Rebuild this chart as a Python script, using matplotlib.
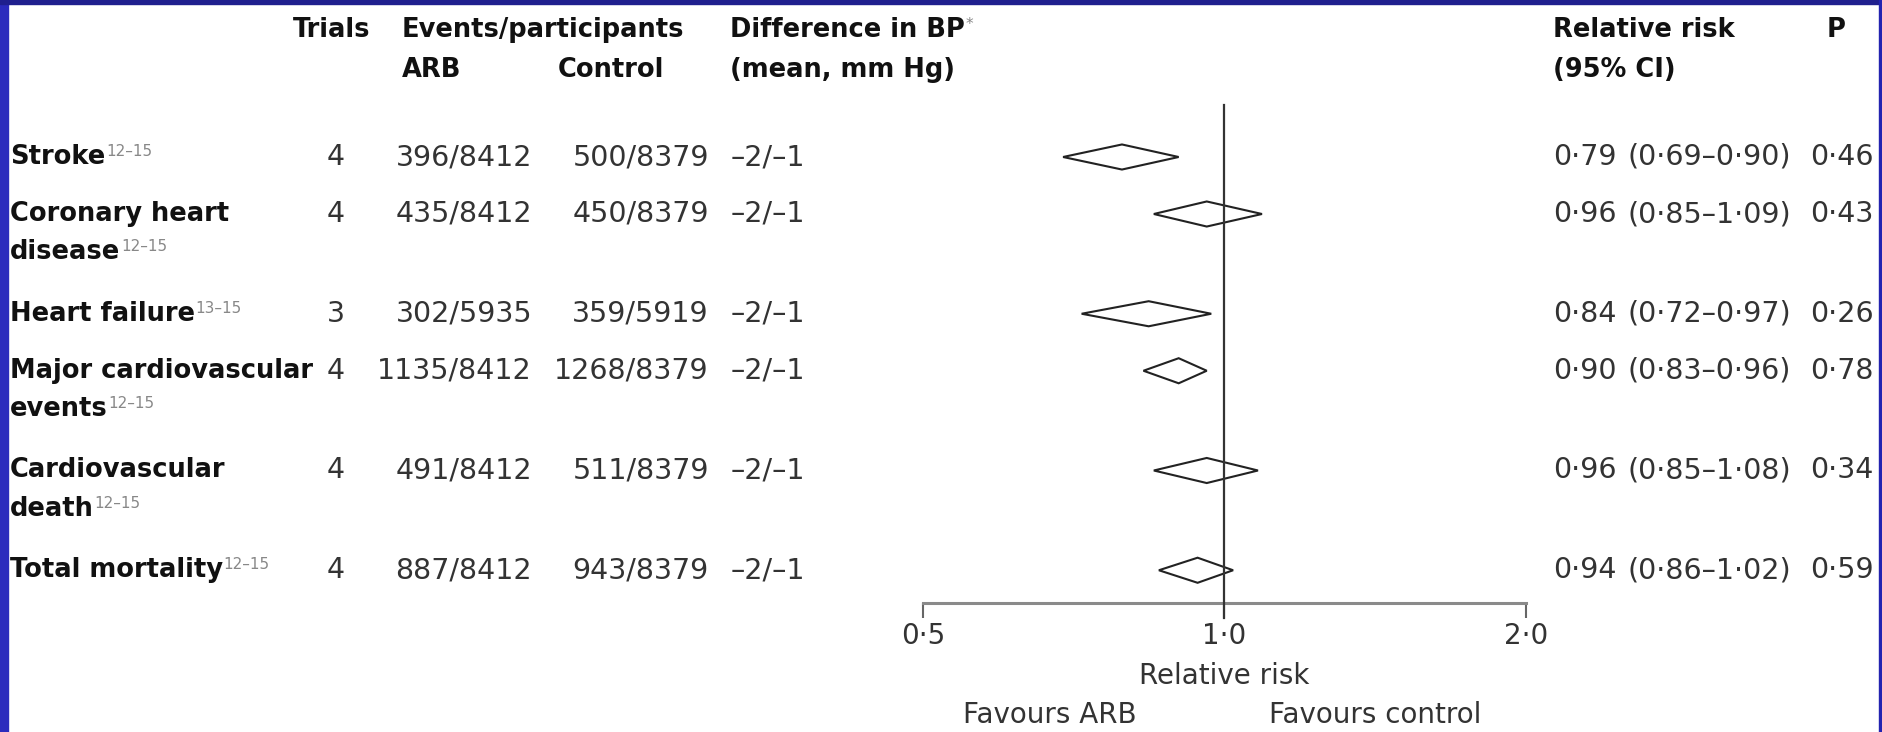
import matplotlib
matplotlib.use("Agg")
import matplotlib.pyplot as plt
from matplotlib.patches import Polygon, Rectangle
from matplotlib.ticker import NullLocator
from matplotlib.transforms import blended_transform_factory

# ---- data ----
outcomes = ["Stroke", "Coronary heart\ndisease", "Heart failure",
            "Major cardiovascular\nevents", "Cardiovascular\ndeath", "Total mortality"]
refs = ["12–15", "12–15", "13–15", "12–15", "12–15", "12–15"]
trials = [4, 4, 3, 4, 4, 4]
arb_events = [396, 435, 302, 1135, 491, 887]
arb_n = [8412, 8412, 5935, 8412, 8412, 8412]
ctrl_events = [500, 450, 359, 1268, 511, 943]
ctrl_n = [8379, 8379, 5919, 8379, 8379, 8379]
bp_diff = ["–2/–1"] * 6
rr = [0.79, 0.96, 0.84, 0.90, 0.96, 0.94]
rr_lo = [0.69, 0.85, 0.72, 0.83, 0.85, 0.86]
rr_hi = [0.90, 1.09, 0.97, 0.96, 1.08, 1.02]
p_vals = [0.46, 0.43, 0.26, 0.78, 0.34, 0.59]
x_ticks = [0.5, 1.0, 2.0]


def dot(v, nd=2):
    # Lancet style decimal point
    return f"{v:.{nd}f}".replace(".", "·")


W, H = 1883, 732
PX_ROW = 57.0
Y0 = 157.0


def py(px):
    return (px - Y0) / PX_ROW


def fx(px):
    return px / W


fig = plt.figure(figsize=(W / 100, H / 100), dpi=100)
fig.patch.set_facecolor("white")

ax = fig.add_axes([fx(923), 0, fx(1526) - fx(923), 1])
ax.patch.set_visible(False)
ax.set_xscale("log", base=2)
ax.set_xlim(0.5, 2.0)
ax.set_ylim(py(H), py(0))

# row positions: two-line labels take extra room
ys = []
y = 0.0
for lbl in outcomes:
    ys.append(y)
    y += 1 + 0.75 * lbl.count("\n")

# axis
for s in ["top", "left", "right"]:
    ax.spines[s].set_visible(False)
ax.spines["bottom"].set_position(("data", py(603)))
ax.spines["bottom"].set_bounds(0.5, 2.0)
ax.spines["bottom"].set_color("#8a8a8a")
ax.spines["bottom"].set_linewidth(2.2)
ax.set_yticks([])
ax.set_xticks(x_ticks)
ax.set_xticklabels([dot(v, 1) for v in x_ticks])
ax.xaxis.set_minor_locator(NullLocator())
ax.tick_params(axis="x", direction="out", length=11, width=1.5, color="#666",
               pad=3, labelsize=20, labelcolor="#333")

ax.plot([1, 1], [py(105), py(618)], color="#333", lw=1.6, zorder=3, clip_on=False)

h = 0.22
for yy, m, lo, hi in zip(ys, rr, rr_lo, rr_hi):
    ax.add_patch(Polygon([[lo, yy], [m, yy - h], [hi, yy], [m, yy + h]], closed=True,
                         fc="white", ec="#222", lw=1.5, zorder=2))

ax.text(1.0, py(676), "Relative risk", ha="center", va="center", fontsize=20, color="#333")
ax.text(0.211, py(715), "Favours ARB", transform=blended_transform_factory(ax.transAxes, ax.transData),
        ha="center", va="center", fontsize=20, color="#333")
ax.text(0.75, py(715), "Favours control", transform=blended_transform_factory(ax.transAxes, ax.transData),
        ha="center", va="center", fontsize=20, color="#333")

# table columns
tr = blended_transform_factory(fig.transFigure, ax.transData)
BOLD = dict(fontsize=18.5, fontweight="bold", color="#111", transform=tr, va="center")
REG = dict(fontsize=20.5, color="#333", transform=tr, va="center")
SUP = dict(fontsize=11, color="#888", textcoords="offset points", ha="left", va="top")

h1, h2 = py(30), py(70)
ax.text(fx(293), h1, "Trials", ha="left", **BOLD)
ax.text(fx(402), h1, "Events/participants", ha="left", **BOLD)
ax.text(fx(402), h2, "ARB", ha="left", **BOLD)
ax.text(fx(558), h2, "Control", ha="left", **BOLD)
t = ax.text(fx(730), h1, "Difference in BP", ha="left", **BOLD)
ax.annotate("*", xy=(1, 1), xycoords=t, xytext=(0.5, 0), **SUP)
ax.text(fx(730), h2, "(mean, mm Hg)", ha="left", **BOLD)
ax.text(fx(1553), h1, "Relative risk", ha="left", **BOLD)
ax.text(fx(1553), h2, "(95% CI)", ha="left", **BOLD)
ax.text(fx(1827), h1, "P", ha="left", **BOLD)

line_gap = 38 / PX_ROW
for i, yy in enumerate(ys):
    lines = outcomes[i].split("\n")
    for k, ln in enumerate(lines):
        t = ax.text(fx(10), yy + k * line_gap, ln, ha="left", **BOLD)
    ax.annotate(refs[i], xy=(1, 1), xycoords=t, xytext=(0.5, 0), **SUP)
    ax.text(fx(345), yy, str(trials[i]), ha="right", **REG)
    ax.text(fx(532), yy, f"{arb_events[i]}/{arb_n[i]}", ha="right", **REG)
    ax.text(fx(709), yy, f"{ctrl_events[i]}/{ctrl_n[i]}", ha="right", **REG)
    ax.text(fx(731), yy, bp_diff[i], ha="left", **REG)
    ax.text(fx(1553), yy, dot(rr[i]), ha="left", **REG)
    ax.text(fx(1628), yy, f"({dot(rr_lo[i])}–{dot(rr_hi[i])})", ha="left", **REG)
    ax.text(fx(1810), yy, dot(p_vals[i]), ha="left", **REG)

# slide frame
fig.add_artist(Rectangle((0, 0), fx(8), 1, transform=fig.transFigure, color="#2b2bbd", zorder=10))
fig.add_artist(Rectangle((0, 1 - 4 / H), 1, 4 / H, transform=fig.transFigure, color="#1f1f8e", zorder=10))
fig.add_artist(Rectangle((fx(1879), 0), fx(4), 1, transform=fig.transFigure, color="#2323b0", zorder=10))

fig.savefig("out.png", dpi=100, facecolor="white")
